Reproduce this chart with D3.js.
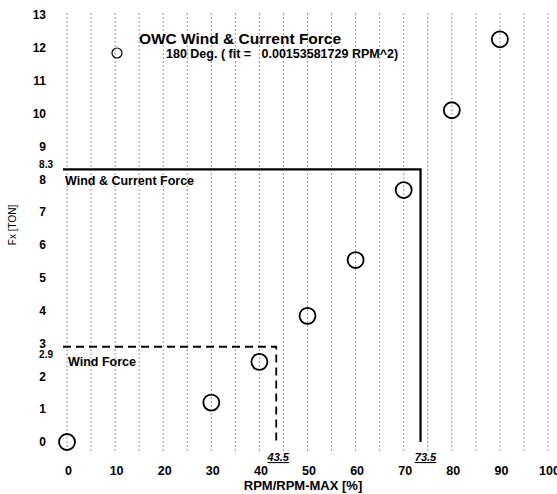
<!DOCTYPE html>
<html><head><meta charset="utf-8">
<script src="https://cdn.jsdelivr.net/npm/d3@7"></script>
<style>body{margin:0;background:#fff}svg{display:block}text{font-family:Arial,"Liberation Sans",sans-serif;fill:#000;white-space:pre}</style>
</head><body><svg id="c" width="557" height="494"></svg>
<script>
const rpm = [0, 30, 40, 50, 60, 70, 80, 90];
const fx = [0, 1.2, 2.44, 3.84, 5.54, 7.67, 10.1, 12.26];
const xTicks = [0, 10, 20, 30, 40, 50, 60, 70, 80, 90, 100];
const yTicks = [0, 1, 2, 3, 4, 5, 6, 7, 8, 9, 10, 11, 12, 13];
const gridX = d3.range(0, 101, 5);
const windForce = 2.9, windRpm = 43.5;
const totalForce = 8.3, totalRpm = 73.5;
const title = "OWC Wind & Current Force";
const legendLabel = "180 Deg. ( fit =   0.00153581729 RPM^2)";

const svg = d3.select("#c");
const x = d3.scaleLinear().domain([0, 100]).range([67, 548]);
const y = d3.scaleLinear().domain([0, 13]).range([442, 15]);

// vertical dotted grid
svg.append("g").selectAll("line").data(gridX).join("line")
  .attr("x1", d => x(d)).attr("x2", d => x(d))
  .attr("y1", y(13.05)).attr("y2", y(-0.35))
  .attr("stroke", "#777").attr("stroke-width", 1).attr("stroke-dasharray", "1.5,2.5");

// y axis labels
const yAxis = d3.axisLeft(y).tickValues(yTicks).tickSize(0).tickPadding(0).tickFormat(d3.format("d"));
const gy = svg.append("g").attr("transform", "translate(46,0)").call(yAxis);
gy.select(".domain").remove();
gy.selectAll("text").attr("font-size", 12).attr("font-weight", "bold").attr("font-family", "Arial, Liberation Sans, sans-serif");

// x axis labels
const xAxis = d3.axisBottom(x).tickValues(xTicks).tickSize(0).tickPadding(0).tickFormat(d3.format("d"));
const gx = svg.append("g").attr("transform", "translate(1,466)").call(xAxis);
gx.select(".domain").remove();
gx.selectAll("text").attr("font-size", 12.5).attr("font-weight", "bold").attr("font-family", "Arial, Liberation Sans, sans-serif");

// Wind & current force line
svg.append("path")
  .attr("d", d3.line()([[x(0) - 4, y(totalForce)], [x(totalRpm), y(totalForce)], [x(totalRpm), y(0)]]))
  .attr("fill", "none").attr("stroke", "#000").attr("stroke-width", 2.2);
// Wind force line (dashed)
svg.append("path")
  .attr("d", d3.line()([[x(0) - 4, y(windForce)], [x(windRpm), y(windForce)], [x(windRpm), y(0)]]))
  .attr("fill", "none").attr("stroke", "#000").attr("stroke-width", 1.8).attr("stroke-dasharray", "8,5");

// level labels
svg.append("text").attr("x", 53).attr("y", y(totalForce) - 1).attr("text-anchor", "end")
  .attr("font-size", 10).attr("font-weight", "bold").text(totalForce.toFixed(1));
svg.append("text").attr("x", 53).attr("y", y(windForce) + 11).attr("text-anchor", "end")
  .attr("font-size", 10).attr("font-weight", "bold").text(windForce.toFixed(1));
svg.append("text").attr("x", x(totalRpm) + 5).attr("y", 461).attr("text-anchor", "middle")
  .attr("font-size", 11).attr("font-weight", "bold").attr("font-style", "italic")
  .attr("text-decoration", "underline").text(totalRpm.toFixed(1));
svg.append("text").attr("x", x(windRpm) + 2).attr("y", 461).attr("text-anchor", "middle")
  .attr("font-size", 11).attr("font-weight", "bold").attr("font-style", "italic")
  .attr("text-decoration", "underline").text(windRpm.toFixed(1));

svg.append("text").attr("x", 65).attr("y", 185).attr("font-size", 12.5).attr("font-weight", "bold").text("Wind & Current Force");
svg.append("text").attr("x", 68).attr("y", 366).attr("font-size", 12.5).attr("font-weight", "bold").text("Wind Force");

// data circles
svg.append("g").selectAll("circle").data(rpm).join("circle")
  .attr("cx", d => x(d)).attr("cy", (d, i) => y(fx[i])).attr("r", 8)
  .attr("fill", "none").attr("stroke", "#000").attr("stroke-width", 1.8);

// title & legend
svg.append("text").attr("x", 240).attr("y", 44).attr("text-anchor", "middle")
  .attr("font-size", 15.5).attr("font-weight", "bold").text(title);
svg.append("circle").attr("cx", 117).attr("cy", 53).attr("r", 5)
  .attr("fill", "none").attr("stroke", "#000").attr("stroke-width", 1.2);
svg.append("text").attr("x", 166).attr("y", 58).attr("font-size", 12.5).attr("font-weight", "bold").text(legendLabel);

// axis titles
svg.append("text").attr("x", 303).attr("y", 490).attr("text-anchor", "middle")
  .attr("font-size", 13).attr("font-weight", "bold").text("RPM/RPM-MAX [%]");
svg.append("text").attr("transform", "translate(16,225) rotate(-90)").attr("text-anchor", "middle")
  .attr("font-size", 10).text("Fx [TON]");
</script></body></html>
